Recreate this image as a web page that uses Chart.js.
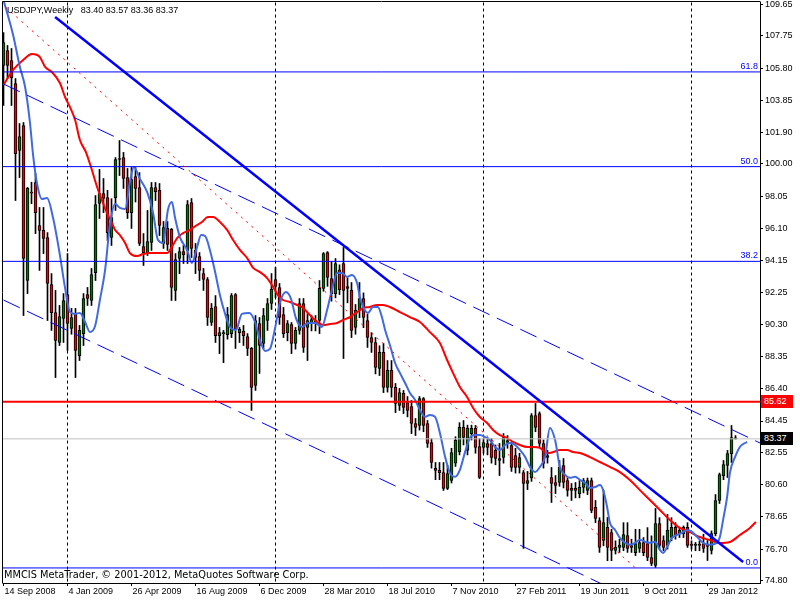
<!DOCTYPE html>
<html>
<head>
<meta charset="utf-8"/>
<style>
  html,body{margin:0;padding:0;background:#fff;}
  .wrap{position:relative;width:800px;height:600px;overflow:hidden;}
  canvas{position:absolute;left:0;top:0;}
  .txt{position:absolute;white-space:pre;font-family:"Liberation Sans",Arial,sans-serif;font-size:9px;line-height:11px;color:#000;z-index:2;}
  .fib{color:#0000FF;text-align:right;right:42px;}
  .box{left:761px;width:29px;height:13px;line-height:13px;padding-left:3px;color:#fff;}
</style>
</head>
<body>
<div class="wrap">
  <canvas id="c" width="800" height="600"></canvas>
  <div class="txt" style="left:7px;top:5px">USDJPY,Weekly   83.40 83.57 83.36 83.37</div>
  <div class="txt" style="left:4px;top:569px;font-family:'DejaVu Sans',sans-serif;font-size:9.8px">MMCIS MetaTrader, © 2001-2012, MetaQuotes Software Corp.</div>
  <div id="boxRes" class="txt box" style="background:#FF0000">85.62</div>
  <div id="boxLast" class="txt box" style="background:#000">83.37</div>
</div>
<script src="https://cdn.jsdelivr.net/npm/chart.js@4.4.0/dist/chart.umd.min.js"></script>
<script>
// weekly bars, index 0 = 14 Sep 2008
const dateLabels  = ['14 Sep 2008','4 Jan 2009','26 Apr 2009','16 Aug 2009','6 Dec 2009','28 Mar 2010',
                     '18 Jul 2010','7 Nov 2010','27 Feb 2011','19 Jun 2011','9 Oct 2011','29 Jan 2012'];
const dateTickIdx = [0,16,32,48,64,80,96,112,128,144,160,176];
const priceTicks  = [109.65,107.75,105.80,103.85,101.90,100.00,98.05,96.10,94.15,92.25,90.30,
                     88.35,86.40,84.45,82.55,80.60,78.65,76.70,74.80];
const separatorIdx = [16,68,120,172];

const opens = [
  105.96,106.86,106.26,104.87,100.82,102.33,92.95,98.30,98.88,96.28,
  95.98,95.55,92.71,91.01,89.20,90.65,92.10,90.05,90.95,88.41,
  89.74,92.10,91.74,93.43,97.61,98.21,97.97,95.55,97.97,100.27,
  100.39,99.18,97.06,99.24,98.58,95.01,94.64,95.25,98.58,98.40,
  95.19,96.10,96.04,92.35,94.28,94.70,94.77,97.67,94.77,94.40,
  93.37,93.01,90.41,91.38,89.62,89.74,89.68,89.74,92.10,89.80,
  89.87,89.56,88.84,86.60,90.35,89.14,90.53,91.56,93.01,92.53,
  90.89,89.80,90.29,89.14,89.93,91.56,90.11,90.35,90.53,90.53,
  92.47,94.64,93.07,92.16,93.60,93.98,92.59,92.35,90.11,91.14,
  91.86,90.53,89.50,89.20,87.63,88.60,86.48,87.51,86.48,85.39,
  86.12,85.57,85.33,84.30,84.18,85.81,84.30,83.15,81.58,81.46,
  81.33,80.37,80.85,81.90,82.60,84.06,82.67,83.69,84.00,82.91,
  82.85,83.09,83.09,82.67,82.18,82.24,83.15,82.97,82.36,81.64,
  81.33,80.67,81.00,84.78,84.90,83.09,82.24,81.03,80.73,80.73,
  81.76,80.85,80.37,80.37,80.06,80.43,80.25,80.85,79.22,78.43,
  77.22,78.01,77.70,76.62,76.80,76.80,77.52,76.92,76.49,76.74,
  77.10,77.04,76.19,75.71,78.25,77.22,76.92,77.40,78.01,77.64,
  77.64,78.01,77.00,76.92,77.00,77.04,76.95,76.62,77.64,79.64,
  81.15,81.76,82.48,83.40];
const highs = [
  107.95,107.17,106.99,105.17,102.45,102.51,98.58,98.90,99.42,97.37,
  97.37,95.85,93.37,92.35,91.44,92.16,94.58,91.26,91.26,90.23,
  92.16,92.53,93.68,98.09,99.67,99.12,98.40,97.90,100.39,101.42,
  100.70,99.73,99.79,99.79,99.48,95.79,97.19,98.88,98.88,98.82,
  96.52,96.52,96.10,94.58,94.95,95.07,97.79,97.91,95.19,94.64,
  93.68,93.13,91.56,92.04,90.11,89.93,91.32,92.16,92.16,90.11,
  90.23,89.74,88.90,90.83,90.71,91.26,91.86,93.37,93.74,92.77,
  91.32,90.53,90.41,90.11,91.86,91.86,90.95,90.83,90.83,92.95,
  94.64,94.70,94.10,94.28,93.90,94.95,93.13,92.83,91.50,92.83,
  92.20,90.90,89.80,89.50,89.00,89.14,88.11,88.11,86.72,86.42,
  86.30,85.93,85.69,84.60,85.93,85.87,84.48,83.39,81.94,81.94,
  81.94,81.76,82.80,83.50,84.35,84.48,84.20,84.20,84.18,83.39,
  83.39,83.39,83.39,83.00,83.09,83.69,83.57,83.15,82.80,82.50,
  81.46,81.40,84.90,85.51,85.00,83.30,82.67,81.64,81.15,82.06,
  82.18,81.03,80.67,80.73,80.85,80.97,81.00,81.00,79.64,78.60,
  80.25,78.61,77.90,77.20,77.30,78.30,78.30,77.30,77.90,77.90,
  77.40,78.00,77.50,79.16,78.60,77.50,78.80,78.60,78.30,78.00,
  78.10,78.30,77.20,77.10,77.20,77.60,77.22,77.80,80.00,81.30,
  82.06,82.67,84.18,83.57];
const lows = [
  103.54,105.17,103.54,97.79,99.18,90.83,92.16,97.60,95.79,93.56,
  94.58,90.53,89.93,87.08,89.02,89.20,88.72,89.70,87.08,88.11,
  89.02,91.44,91.44,92.95,96.70,97.06,95.37,95.07,97.19,99.30,
  98.52,96.70,96.10,97.70,95.07,93.86,94.46,94.77,97.79,95.67,
  94.89,94.77,91.74,91.74,93.37,93.98,93.98,94.34,93.37,92.95,
  92.35,90.23,90.23,89.20,88.53,87.98,89.40,89.50,88.84,89.20,
  89.02,88.41,85.09,86.30,87.33,88.80,89.93,91.20,91.90,90.30,
  89.50,89.30,88.53,88.80,89.70,88.60,88.11,89.90,89.90,89.74,
  92.30,92.60,91.70,91.90,92.10,88.23,91.60,89.50,89.70,90.70,
  90.10,88.90,88.60,87.30,87.20,86.17,86.20,85.90,84.96,85.09,
  84.90,84.70,83.69,83.57,83.90,83.80,82.85,81.60,80.90,80.90,
  80.25,80.30,80.70,81.70,82.40,83.00,82.40,83.30,82.50,80.97,
  82.50,82.40,81.90,81.80,81.15,81.90,82.80,81.40,81.30,81.30,
  76.74,80.30,80.80,83.80,82.90,81.60,81.90,79.52,80.06,80.50,
  80.40,79.90,79.64,79.80,79.80,80.10,80.00,78.90,78.30,76.50,
  76.90,76.00,76.00,76.40,76.50,76.60,76.50,76.50,76.30,76.50,
  76.30,76.00,75.70,75.59,76.70,76.60,76.70,77.20,77.30,77.40,
  77.40,76.80,76.70,76.60,76.60,76.50,76.01,76.40,77.50,79.46,
  80.90,81.03,81.94,83.36];
const closes = [
  107.35,105.96,105.23,100.63,101.66,94.28,98.52,98.24,97.06,95.98,
  95.49,92.77,91.01,89.32,90.77,91.74,90.35,90.71,88.72,89.93,
  91.86,91.86,93.31,97.55,98.21,97.91,95.85,96.76,100.27,100.33,
  99.12,97.06,99.06,98.52,95.19,94.64,95.31,98.58,98.33,96.28,
  96.16,95.13,92.53,94.22,94.70,94.52,97.55,94.89,94.34,93.56,
  93.01,90.71,91.26,89.62,89.80,89.80,90.89,92.04,89.99,89.99,
  89.62,88.84,86.48,90.53,89.02,90.83,91.56,92.41,92.59,90.71,
  89.74,90.35,89.14,89.93,91.56,88.90,90.53,90.59,90.35,92.47,
  94.58,93.13,92.16,93.98,92.40,92.35,92.47,89.93,91.14,91.86,
  90.71,89.50,89.20,87.69,88.60,86.48,87.51,86.48,85.51,86.17,
  85.27,85.09,84.30,84.06,85.81,84.18,83.09,81.94,81.46,81.33,
  80.37,81.27,82.54,83.30,84.06,83.45,84.00,84.00,82.85,81.03,
  83.15,82.85,82.24,82.18,82.06,83.45,83.27,81.64,81.64,82.24,
  80.67,80.85,84.78,84.06,83.09,81.88,82.36,80.67,80.55,81.64,
  80.73,80.25,80.25,80.25,80.43,80.85,80.85,79.04,78.55,76.80,
  78.31,76.80,76.62,76.80,76.95,77.58,76.74,76.80,77.04,77.10,
  76.49,76.19,75.83,78.25,76.92,76.80,77.83,78.01,77.52,77.83,
  78.01,76.92,76.92,77.00,76.92,76.74,76.86,77.64,79.64,81.21,
  81.82,82.48,83.45,83.37];

// fast moving average (blue)
const blueX = [0,2.4,4.1,5.4,6.6,7.4,8.4,9.6,10.9,12.4,14.1,15.4,16.6,17.9,19.1,20.4,21.6,22.9,24.1,25.4,
  26.6,27.9,29.1,30.4,31.6,32.6,34.1,35.9,37.4,38.6,39.9,41.1,42.1,42.9,44.1,45.9,47.1,48.4,49.4,50.4,
  51.6,52.9,54.1,55.4,56.6,58.1,59.6,61.4,62.9,64.1,65.4,66.6,67.9,69.1,70.6,71.9,73.1,74.6,76.1,77.9,
  79.6,80.9,82.1,83.4,84.6,85.9,87.1,88.4,89.1,89.9,91.1,92.4,93.6,94.6,95.4,96.6,97.9,99.1,100.4,101.6,
  102.9,104.1,105.4,106.6,107.9,109.1,110.4,111.6,112.9,114.1,115.4,116.6,117.9,119.1,120.4,121.6,122.9,124.1,125.4,126.6,
  127.9,129.1,130.4,131.6,132.9,134.1,135.4,136.6,137.9,139.1,140.4,141.6,142.9,144.1,145.4,146.6,147.9,149.1,149.9,150.9,
  151.6,152.9,154.1,155.4,156.6,157.9,159.1,160.4,161.6,162.9,164.1,164.9,165.9,167.1,168.4,169.6,170.9,172.1,173.4,174.9,
  176.6,178.4,179.1,179.9,180.9,181.6,182.9,184.1,185.4,185.9];
const blueY = [109.92,107.80,105.87,104.66,102.54,100.54,98.79,97.88,97.94,96.73,94.49,92.49,91.05,90.93,90.99,90.44,89.84,90.20,91.77,93.59,
  96.31,97.58,97.34,97.28,98.91,99.82,99.10,98.31,97.04,95.41,95.22,97.22,97.70,96.73,95.58,94.80,94.01,94.98,95.70,95.64,
  94.80,93.47,92.08,90.93,90.14,89.96,90.93,90.99,90.44,89.35,88.69,88.81,90.08,91.59,92.25,91.83,90.68,90.14,90.38,90.38,
  90.14,91.17,92.38,93.41,93.41,93.17,93.29,92.80,91.95,91.35,90.99,91.35,91.35,90.74,89.96,89.05,87.96,87.36,86.75,86.15,
  85.72,85.12,84.70,84.82,84.70,83.73,82.28,81.31,81.07,81.49,82.58,83.42,83.60,83.60,83.48,83.30,82.88,82.70,83.00,83.12,
  83.00,82.70,82.28,81.67,81.37,81.67,82.28,84.03,83.30,81.67,81.19,81.01,81.07,80.89,80.71,80.40,80.46,80.58,80.28,79.25,
  78.29,77.86,77.38,77.08,76.96,77.08,77.26,77.14,77.08,77.14,76.65,76.47,76.83,77.38,77.56,77.68,77.86,77.74,77.44,77.08,
  76.96,77.08,77.44,78.47,79.86,81.31,82.28,82.88,83.12,83.18];

// slow moving average (red)
const redX = [0,2.4,4.9,7.1,9.1,10.4,12.1,14.1,15.4,16.6,17.9,19.1,20.6,22.1,23.4,24.6,25.9,27.1,27.9,29.1,
  30.4,31.6,33.4,34.9,36.6,38.6,40.9,42.1,43.4,44.9,46.6,48.4,49.6,51.1,52.4,54.1,55.9,57.4,59.1,60.9,
  62.4,64.1,65.9,67.4,68.6,69.9,71.6,73.4,74.9,76.6,78.4,79.9,81.6,83.4,84.9,86.6,88.4,89.9,91.6,93.4,
  94.9,96.6,99.1,101.6,104.1,106.6,109.1,110.9,112.4,114.1,115.9,117.4,119.1,120.9,122.4,124.1,125.9,127.4,129.1,130.9,
  132.4,134.1,135.9,137.4,139.1,140.9,142.4,144.1,146.6,149.1,151.6,154.1,156.6,159.1,161.6,164.1,166.6,169.1,171.6,174.1,
  176.6,179.1,181.6,184.1,186.6,188.1];
const redY = [104.78,105.69,106.29,106.65,106.47,105.87,105.56,104.90,104.05,103.45,102.66,101.45,100.72,99.64,98.61,97.82,97.03,96.43,96.01,95.70,
  95.22,94.61,94.43,94.55,94.61,94.61,94.61,94.98,95.52,95.82,96.01,96.31,96.49,96.79,96.79,96.49,96.01,95.40,94.80,94.31,
  93.71,93.46,93.10,92.56,92.07,91.77,91.65,91.47,91.29,90.86,90.44,90.26,90.32,90.38,90.56,90.74,91.04,91.29,91.35,91.47,
  91.47,91.35,91.04,90.74,90.44,89.83,89.17,88.14,87.35,86.51,85.90,85.24,84.69,84.33,83.91,83.60,83.42,83.18,83.00,82.88,
  82.88,82.82,82.51,82.57,82.70,82.70,82.57,82.51,82.27,81.97,81.67,81.36,80.88,80.27,79.67,79.07,78.46,77.98,77.73,77.43,
  77.25,77.07,77.13,77.55,77.98,78.34];

// objects drawn on the chart
const fiboLevels = [105.57, 99.84, 94.11, 75.56];
const fiboNames  = ['61.8', '50.0', '38.2', '0.0'];
const fiboDiagX  = [-67.4, 158], fiboDiagY = [124.12, 75.56];
const trendX     = [12.9, 184.9], trendY = [108.89, 75.92];
const channelX   = [0, 189.125];
const upperY     = [104.84, 83.12];
const lowerY     = [91.77, 70.05];
const resistLevel = 85.62;
const lastPrice   = 83.37;

const X_MIN = -0.125, X_MAX = 189.125;
const Y_MIN = 74.649, Y_MAX = 109.801;
const BULL = '#007800', BEAR = '#F00000';

const xy = (xs, ys) => xs.map((x, k) => ({ x, y: ys[k] }));
const flat = v => [{ x: X_MIN - 1, y: v }, { x: X_MAX + 1, y: v }];

function line(data, color, width, dash, order) {
  return { type: 'line', data, borderColor: color, borderWidth: width, borderDash: dash || [],
           pointRadius: 0, fill: false, tension: 0, order };
}

// fibo labels as real text
const wrap = document.querySelector('.wrap');
fiboNames.forEach((n, k) => {
  const d = document.createElement('div');
  d.className = 'txt fib'; d.id = 'fib' + k; d.textContent = n;
  wrap.appendChild(d);
});

const frame = {
  id: 'frame',
  afterDraw(chart) {
    const { ctx, chartArea: a, scales: { y } } = chart;
    ctx.save();
    ctx.strokeStyle = '#000'; ctx.lineWidth = 1;
    ctx.beginPath();
    ctx.moveTo(a.left - 0.5, a.bottom + 0.5);
    ctx.lineTo(a.left - 0.5, a.top - 0.5);
    ctx.lineTo(a.right + 0.5, a.top - 0.5);
    ctx.stroke();
    ctx.restore();
    fiboLevels.forEach((v, k) => {
      document.getElementById('fib' + k).style.top = Math.round(y.getPixelForValue(v) - 11) + 'px';
    });
    document.getElementById('boxRes').style.top  = Math.round(y.getPixelForValue(resistLevel) - 6.5) + 'px';
    document.getElementById('boxLast').style.top = Math.round(y.getPixelForValue(lastPrice) - 6.5) + 'px';
  }
};

Chart.defaults.font.family = '"Liberation Sans", Arial, sans-serif';
Chart.defaults.font.size = 9;
Chart.defaults.color = '#000';

const datasets = [];
separatorIdx.forEach(i => datasets.push(line([{ x: i, y: Y_MIN - 1 }, { x: i, y: Y_MAX + 1 }], '#000', 1, [3, 3], 20)));
datasets.push({ type: 'bar', data: opens.map((_, i) => ({ x: i, y: [lows[i], highs[i]] })),
  backgroundColor: '#000', barThickness: 1, grouped: false, order: 12 });
datasets.push({ type: 'bar', data: opens.map((o, i) => ({ x: i, y: [o, closes[i]] })),
  backgroundColor: opens.map((o, i) => closes[i] >= o ? BULL : BEAR),
  borderColor: '#000', borderWidth: 1, borderSkipped: false, barThickness: 3, minBarLength: 1,
  grouped: false, order: 11 });
datasets.push(Object.assign(line(xy(redX, redY), '#FF0000', 2, null, 8), { cubicInterpolationMode: 'monotone' }));
datasets.push(Object.assign(line(xy(blueX, blueY), '#4169E1', 2, null, 7), { cubicInterpolationMode: 'monotone' }));
datasets.push(line(flat(lastPrice), '#C0C0C0', 1, null, 6));
fiboLevels.forEach(v => datasets.push(line(flat(v), '#0000FF', 1, null, 5)));
datasets.push(line(xy(fiboDiagX, fiboDiagY), '#FF0000', 1, [2, 5], 4));
datasets.push(line(xy(channelX, upperY), '#0000FF', 1, [18, 8], 3));
datasets.push(line(xy(channelX, lowerY), '#0000FF', 1, [18, 8], 3));
datasets.push(line(flat(resistLevel), '#FF0000', 2, null, 2));
datasets.push(line(xy(trendX, trendY), '#0000FF', 2.5, null, 1));

new Chart(document.getElementById('c'), {
  type: 'bar',
  data: { datasets },
  options: {
    responsive: false,
    animation: false,
    events: [],
    layout: { padding: { left: 3, top: 2, right: 0, bottom: 0 } },
    plugins: { legend: { display: false }, tooltip: { enabled: false } },
    scales: {
      x: {
        type: 'linear', min: X_MIN, max: X_MAX, offset: false,
        grid: { drawOnChartArea: false, drawTicks: true, tickLength: 3, color: '#000', offset: false },
        border: { display: true, color: '#000' },
        afterBuildTicks: s => { s.ticks = dateTickIdx.map(v => ({ value: v })); },
        afterFit: s => { s.height = 17; s.paddingLeft = 0; s.paddingRight = 0; },
        ticks: { autoSkip: false, maxRotation: 0, minRotation: 0, align: 'start', padding: 0, labelOffset: 1,
                 callback: (v, k) => dateLabels[k] }
      },
      y: {
        type: 'linear', position: 'right', min: Y_MIN, max: Y_MAX,
        grid: { drawOnChartArea: false, drawTicks: true, tickLength: 3, color: '#000' },
        border: { display: true, color: '#000' },
        afterBuildTicks: s => { s.ticks = priceTicks.map(v => ({ value: v })); },
        afterFit: s => { s.width = 40; s.paddingTop = 0; s.paddingBottom = 0; },
        ticks: { autoSkip: false, padding: 2, callback: v => v.toFixed(2) }
      }
    }
  },
  plugins: [frame]
});
</script>
</body>
</html>
